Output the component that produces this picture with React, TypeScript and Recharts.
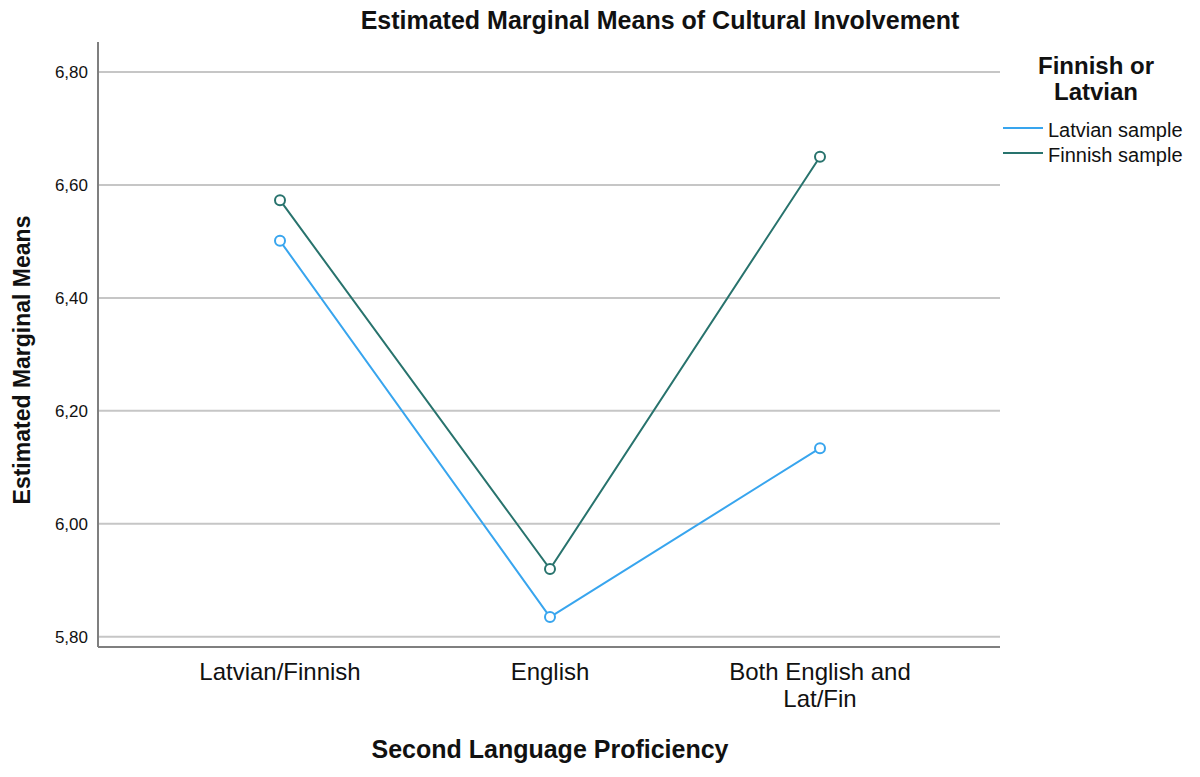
import React from 'react';
import {
  LineChart,
  Line,
  XAxis,
  YAxis,
  ReferenceLine,
} from 'recharts';

const categorias = ['Latvian/Finnish', 'English', 'Both English and\nLat/Fin'];
const latvianValues = [6.501, 5.835, 6.134];
const finnishValues = [6.573, 5.92, 6.65];
const yTicks = [5.8, 6.0, 6.2, 6.4, 6.6, 6.8];

const seriesNames = ['Latvian sample', 'Finnish sample'];
const seriesColors = ['#38a5ee', '#28736d'];

const dados = categorias.map((c, i) => ({
  name: c,
  latvian: latvianValues[i],
  finnish: finnishValues[i],
}));

const FONT = 'Liberation Sans, Arial, sans-serif';

const CategoryTick = (props: any) => {
  const { x, y, payload } = props;
  const linhas = String(payload.value).split('\n');
  return (
    <text x={x} y={y + 25} textAnchor="middle" fontSize={24} fontFamily={FONT} fill="#111">
      {linhas.map((l, i) => (
        <tspan key={i} x={x} dy={i === 0 ? 0 : 27}>
          {l}
        </tspan>
      ))}
    </text>
  );
};

const HollowDot = (props: any) => {
  const { cx, cy, stroke } = props;
  if (cx == null || cy == null) return null;
  return <circle cx={cx} cy={cy} r={5} fill="#fff" stroke={stroke} strokeWidth={2} />;
};

const App: React.FC = () => {
  return (
    <div style={{ position: 'absolute', left: 0, top: 0, width: 1200, height: 777, background: '#fff' }}>
      <LineChart
        width={1200}
        height={777}
        data={dados}
        margin={{ top: 42, right: 200, bottom: 100, left: 0 }}
      >
        {/* linhas de grade nos ticks */}
        {yTicks.map((t) => (
          <ReferenceLine key={t} y={t} stroke="#c6c6c6" strokeWidth={2} />
        ))}
        <XAxis
          dataKey="name"
          padding={{ left: 182, right: 180 }}
          tick={<CategoryTick />}
          tickLine={false}
          axisLine={{ stroke: '#7f7f7f', strokeWidth: 2 }}
          interval={0}
        />
        <YAxis
          width={98}
          domain={[5.782, 6.853]}
          ticks={yTicks}
          tickFormatter={(v: number) => v.toFixed(2).replace('.', ',')}
          tick={{ fontSize: 17, fontFamily: FONT, fill: '#111' }}
          tickLine={false}
          tickMargin={4}
          axisLine={{ stroke: '#7f7f7f', strokeWidth: 2 }}
        />
        <Line
          dataKey="latvian"
          stroke={seriesColors[0]}
          strokeWidth={2}
          dot={<HollowDot />}
          activeDot={false}
          isAnimationActive={false}
        />
        <Line
          dataKey="finnish"
          stroke={seriesColors[1]}
          strokeWidth={2}
          dot={<HollowDot />}
          activeDot={false}
          isAnimationActive={false}
        />
        <text x={660} y={29} textAnchor="middle" fontSize={25} fontWeight="bold" fontFamily={FONT} fill="#111">
          Estimated Marginal Means of Cultural Involvement
        </text>
        <text x={550} y={758} textAnchor="middle" fontSize={25} fontWeight="bold" fontFamily={FONT} fill="#111">
          Second Language Proficiency
        </text>
        <text
          x={30}
          y={360}
          textAnchor="middle"
          fontSize={23}
          fontWeight="bold"
          fontFamily={FONT}
          fill="#111"
          transform="rotate(-90 30 360)"
        >
          Estimated Marginal Means
        </text>
        <text x={1096} y={74} textAnchor="middle" fontSize={24} fontWeight="bold" fontFamily={FONT} fill="#111">
          Finnish or
        </text>
        <text x={1096} y={100} textAnchor="middle" fontSize={24} fontWeight="bold" fontFamily={FONT} fill="#111">
          Latvian
        </text>
        {seriesNames.map((n, i) => (
          <g key={n}>
            <line x1={1003} x2={1043} y1={128 + i * 25} y2={128 + i * 25} stroke={seriesColors[i]} strokeWidth={2} />
            <text x={1048} y={137 + i * 25} fontSize={20} fontFamily={FONT} fill="#111">
              {n}
            </text>
          </g>
        ))}
      </LineChart>
    </div>
  );
};

export default App;
